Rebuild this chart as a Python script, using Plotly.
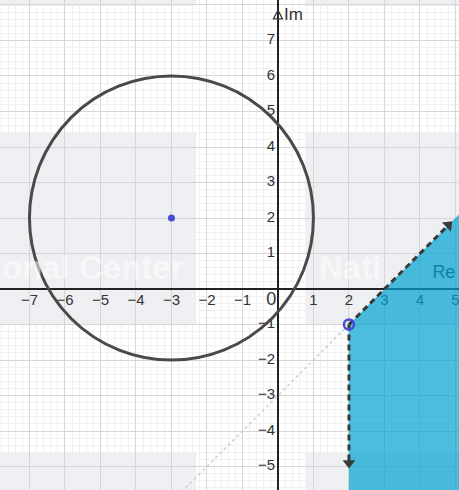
"""Circle |z+3-2i| = 4 and the shaded region x >= 2, y <= x - 3 on an Argand grid"""
import plotly.graph_objects as go

# circle
circle_center = (-3, 2)
circle_radius = 4

# boundary of the shaded region
vertical_x = [2, 2]
vertical_y = [-1, -4.9]
slant_x = [2, 4.8]
slant_y = [-1, 1.8]
region_x = [2, 2, 5.3, 5.3, 2]
region_y = [-1, -5.8, -5.8, 2.3, -1]
dotted_x = [2, -2.7]
dotted_y = [-1, -5.7]

# tick labels
x_ticks = [-7, -6, -5, -4, -3, -2, -1, 1, 2, 3, 4, 5]
y_ticks = [7, 6, 5, 4, 3, 2, 1, -1, -2, -3, -4, -5]

X_RANGE = [-7.83, 5.1]
Y_RANGE = [-5.66, 8.14]

DARK = "#3a3a3a"
LABEL = "#333333"
FILL = "rgba(0,162,208,0.70)"
POINT = "#4a4ad8"
WM = "rgba(185,192,210,0.26)"
FONT = "Liberation Sans, Arial"


def fmt(v):
    return str(v).replace("-", "\u2212")


fig = go.Figure()

# tick labels (drawn first so the region covers them)
fig.add_trace(
    go.Scatter(
        x=x_ticks,
        y=[-0.33] * len(x_ticks),
        text=[fmt(v) for v in x_ticks],
        mode="text",
        textposition="middle center",
        textfont=dict(size=15, color=LABEL, family=FONT),
        hoverinfo="skip",
    )
)
fig.add_trace(
    go.Scatter(
        x=[-0.08] * len(y_ticks),
        y=y_ticks,
        text=[fmt(v) for v in y_ticks],
        mode="text",
        textposition="middle left",
        textfont=dict(size=15, color=LABEL, family=FONT),
        hoverinfo="skip",
    )
)
fig.add_trace(
    go.Scatter(
        x=[-0.05, 4.35],
        y=[-0.33, 0.45],
        text=["0", "Re"],
        mode="text",
        textposition=["middle left", "middle right"],
        textfont=dict(size=18, color=LABEL, family=FONT),
        hoverinfo="skip",
    )
)

# faint dotted continuation of the slant boundary
fig.add_trace(
    go.Scatter(
        x=dotted_x,
        y=dotted_y,
        mode="lines",
        line=dict(color="#cfcfcf", width=1.5, dash="dot"),
        hoverinfo="skip",
    )
)

# shaded region
fig.add_trace(
    go.Scatter(
        x=region_x,
        y=region_y,
        mode="lines",
        fill="toself",
        fillcolor=FILL,
        line=dict(width=0),
        hoverinfo="skip",
    )
)

# dashed boundaries with arrow heads
for bx, by, ang in [(vertical_x, vertical_y, 180), (slant_x, slant_y, 45)]:
    fig.add_trace(
        go.Scatter(
            x=bx,
            y=by,
            mode="lines",
            line=dict(color=DARK, width=3, dash="6px,4px"),
            hoverinfo="skip",
        )
    )
    fig.add_trace(
        go.Scatter(
            x=[bx[-1]],
            y=[by[-1]],
            mode="markers",
            marker=dict(symbol="triangle-up", size=11, angle=ang, color=DARK),
            hoverinfo="skip",
        )
    )

# open end point and circle centre
fig.add_trace(
    go.Scatter(
        x=[vertical_x[0]],
        y=[vertical_y[0]],
        mode="markers",
        marker=dict(symbol="circle-open", size=10, color=POINT, line=dict(width=2.5)),
        hoverinfo="skip",
    )
)
fig.add_trace(
    go.Scatter(
        x=[circle_center[0]],
        y=[circle_center[1]],
        mode="markers",
        marker=dict(size=7, color=POINT),
        hoverinfo="skip",
    )
)

# y axis arrow and label
fig.add_trace(
    go.Scatter(
        x=[0],
        y=[7.86],
        mode="markers",
        marker=dict(symbol="arrow-up-open", size=9, color=DARK, line=dict(width=1.3)),
        hoverinfo="skip",
    )
)
fig.add_annotation(
    x=0.1, y=7.72, text="Im", showarrow=False, xanchor="left",
    font=dict(size=17, color=LABEL, family=FONT),
)

# the circle itself
cx, cy = circle_center
fig.add_shape(
    type="circle",
    x0=cx - circle_radius, x1=cx + circle_radius,
    y0=cy - circle_radius, y1=cy + circle_radius,
    line=dict(color="#4a4a4a", width=3),
)

# faint watermark boxes and lettering
for x0, x1, y0, y1 in [
    (0.0, 0.427, 0.337, 0.73),
    (0.665, 1.0, 0.337, 0.73),
    (0.0, 0.427, 0.0, 0.076),
    (0.665, 1.0, 0.0, 0.076),
    (0.0, 0.427, 0.988, 1.0),
    (0.665, 1.0, 0.988, 1.0),
]:
    fig.add_shape(
        type="rect", xref="paper", yref="paper",
        x0=x0, x1=x1, y0=y0, y1=y1,
        fillcolor=WM, line=dict(width=0), layer="below",
    )
for tx, txt in [(0.0, "onal Center"), (0.69, "Nati")]:
    fig.add_annotation(
        x=tx, y=0.455, xref="paper", yref="paper", text="<b>%s</b>" % txt,
        showarrow=False, xanchor="left",
        font=dict(size=33, color="rgba(255,255,255,0.55)", family=FONT),
    )

fig.update_layout(
    width=459,
    height=490,
    margin=dict(l=0, r=0, t=0, b=0),
    showlegend=False,
    plot_bgcolor="white",
    paper_bgcolor="white",
    xaxis=dict(
        range=X_RANGE, dtick=1, showticklabels=False, ticks="",
        gridcolor="#d6d6d6", gridwidth=1,
        zeroline=True, zerolinecolor="#222222", zerolinewidth=1.5,
        minor=dict(dtick=0.2, showgrid=True, gridcolor="#f0f0f0", gridwidth=1),
        fixedrange=True,
    ),
    yaxis=dict(
        range=Y_RANGE, dtick=1, showticklabels=False, ticks="",
        gridcolor="#d6d6d6", gridwidth=1,
        zeroline=True, zerolinecolor="#222222", zerolinewidth=1.5,
        minor=dict(dtick=0.2, showgrid=True, gridcolor="#f0f0f0", gridwidth=1),
        fixedrange=True,
    ),
)

fig.write_html(
    "out.html",
    config=dict(displayModeBar=False),
    post_script="document.body.style.margin='0';",
)
